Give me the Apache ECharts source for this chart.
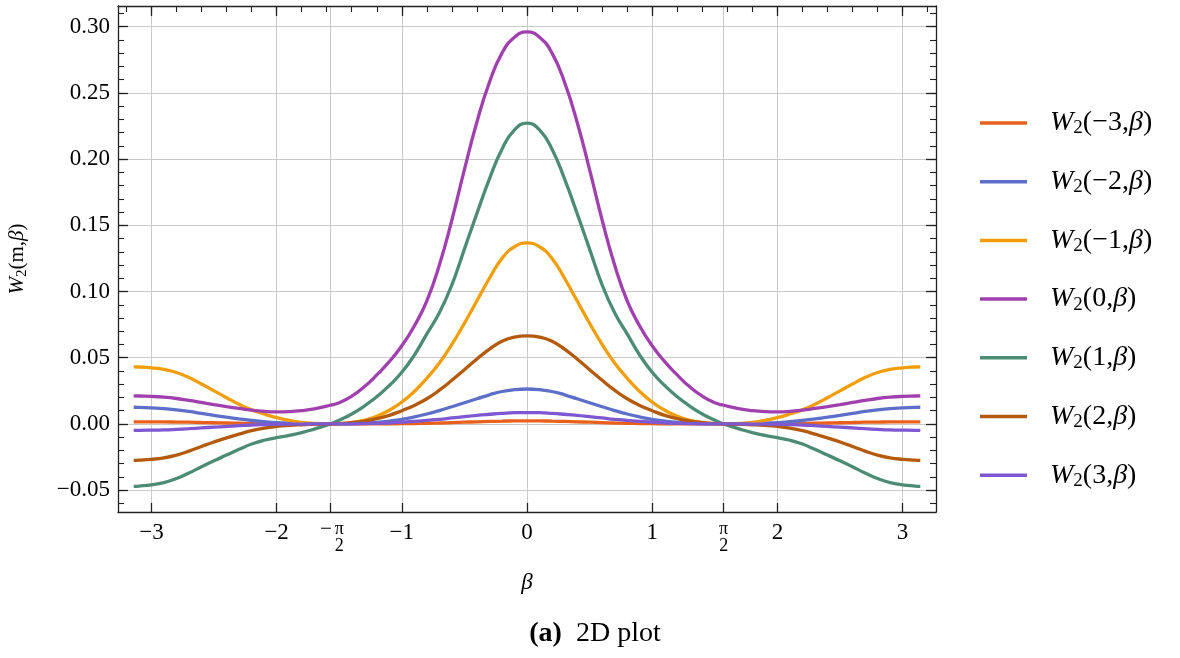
<!DOCTYPE html>
<html>
<head>
<meta charset="utf-8">
<script src="https://cdn.jsdelivr.net/npm/echarts@6/dist/echarts.min.js"></script>
<style>html,body{margin:0;padding:0;background:#fff}#c{width:1180px;height:658px}</style>
</head>
<body>
<div id="c"></div>
<script>
// ---- data ----
var betaValues = [-3.1416,-3.1,-3.0,-2.9,-2.8,-2.7,-2.6,-2.5,-2.4,-2.3,-2.2,-2.1,-2.0,-1.9,-1.8,-1.7,-1.5708,-1.5,-1.4,-1.3,-1.2,-1.1,-1.0,-0.9,-0.8,-0.7,-0.6,-0.5,-0.4,-0.3,-0.2,-0.1,
  0,
  0.1,0.2,0.3,0.4,0.5,0.6,0.7,0.8,0.9,1.0,1.1,1.2,1.3,1.4,1.5,1.5708,1.7,1.8,1.9,2.0,2.1,2.2,2.3,2.4,2.5,2.6,2.7,2.8,2.9,3.0,3.1,3.1416];
var seriesNames = ['W2(-3,β)','W2(-2,β)','W2(-1,β)','W2(0,β)','W2(1,β)','W2(2,β)','W2(3,β)'];
var mLabels = ['−3','−2','−1','0','1','2','3'];

var w_m3 = [0.0015,0.0015,0.0015,0.0015,0.0014,0.0013,0.0011,0.0009,0.0007,0.0005,0.0003,0.0002,0.0001,0,0,0,0,0,0,0,0.0001,0.0001,0.0002,0.0003,0.0005,0.0007,0.0010,0.0013,0.0016,0.0019,0.0021,0.0023,
  0.0023,
  0.0023,0.0021,0.0019,0.0016,0.0013,0.0010,0.0007,0.0005,0.0003,0.0002,0.0001,0.0001,0,0,0,0,0,0,0,0.0001,0.0002,0.0003,0.0005,0.0007,0.0009,0.0011,0.0013,0.0014,0.0015,0.0015,0.0015,0.0015];
var w_m2 = [0.0126,0.0125,0.0121,0.0116,0.0107,0.0095,0.0080,0.0065,0.0051,0.0038,0.0026,0.0017,0.0010,0.0006,0.0003,0.0001,0,0.0000,0.0002,0.0006,0.0012,0.0022,0.0035,0.0053,0.0075,0.0101,0.0130,0.0160,0.0190,0.0220,0.0245,0.0259,
  0.0264,
  0.0259,0.0245,0.0220,0.0190,0.0160,0.0130,0.0101,0.0075,0.0053,0.0035,0.0022,0.0012,0.0006,0.0002,0.0000,0,0.0001,0.0003,0.0006,0.0010,0.0017,0.0026,0.0038,0.0051,0.0065,0.0080,0.0095,0.0107,0.0116,0.0121,0.0125,0.0126];
var w_m1 = [0.0431,0.0430,0.0424,0.0412,0.0388,0.0350,0.0302,0.0250,0.0198,0.0148,0.0106,0.0075,0.0048,0.0027,0.0012,0.0004,0,0.0002,0.0011,0.0028,0.0058,0.0103,0.0165,0.0245,0.0345,0.0460,0.0600,0.0760,0.0930,0.1100,0.1250,0.1338,
  0.1368,
  0.1338,0.1250,0.1100,0.0930,0.0760,0.0600,0.0460,0.0345,0.0245,0.0165,0.0103,0.0058,0.0028,0.0011,0.0002,0,0.0004,0.0012,0.0027,0.0048,0.0075,0.0106,0.0148,0.0198,0.0250,0.0302,0.0350,0.0388,0.0412,0.0424,0.0430,0.0431];
var w_0 = [0.0212,0.0211,0.0208,0.0202,0.0192,0.0178,0.0162,0.0146,0.0131,0.0117,0.0104,0.0095,0.0091,0.0093,0.0100,0.0113,0.0141,0.0160,0.0210,0.0280,0.0370,0.0470,0.0590,0.0740,0.0930,0.1200,0.1540,0.1920,0.2280,0.2580,0.2800,0.2920,
  0.2960,
  0.2920,0.2800,0.2580,0.2280,0.1920,0.1540,0.1200,0.0930,0.0740,0.0590,0.0470,0.0370,0.0280,0.0210,0.0160,0.0141,0.0113,0.0100,0.0093,0.0091,0.0095,0.0104,0.0117,0.0131,0.0146,0.0162,0.0178,0.0192,0.0202,0.0208,0.0211,0.0212];
var w_p1 = [-0.0471,-0.0469,-0.0460,-0.0443,-0.0412,-0.0370,-0.0323,-0.0278,-0.0235,-0.0192,-0.0152,-0.0123,-0.0104,-0.0087,-0.0066,-0.0039,0,0.0028,0.0075,0.0135,0.0205,0.0290,0.0390,0.0520,0.0680,0.0840,0.1050,0.1320,0.1590,0.1850,0.2075,0.2220,
  0.2272,
  0.2220,0.2075,0.1850,0.1590,0.1320,0.1050,0.0840,0.0680,0.0520,0.0390,0.0290,0.0205,0.0135,0.0075,0.0028,0,-0.0039,-0.0066,-0.0087,-0.0104,-0.0123,-0.0152,-0.0192,-0.0235,-0.0278,-0.0323,-0.0370,-0.0412,-0.0443,-0.0460,-0.0469,-0.0471];
var w_p2 = [-0.0275,-0.0273,-0.0267,-0.0256,-0.0235,-0.0205,-0.0170,-0.0136,-0.0105,-0.0077,-0.0051,-0.0032,-0.0019,-0.0011,-0.0006,-0.0002,0,0.0003,0.0010,0.0022,0.0040,0.0065,0.0100,0.0140,0.0190,0.0255,0.0330,0.0410,0.0490,0.0565,0.0625,0.0656,
  0.0665,
  0.0656,0.0625,0.0565,0.0490,0.0410,0.0330,0.0255,0.0190,0.0140,0.0100,0.0065,0.0040,0.0022,0.0010,0.0003,0,-0.0002,-0.0006,-0.0011,-0.0019,-0.0032,-0.0051,-0.0077,-0.0105,-0.0136,-0.0170,-0.0205,-0.0235,-0.0256,-0.0267,-0.0273,-0.0275];
var w_p3 = [-0.0048,-0.0048,-0.0047,-0.0045,-0.0041,-0.0036,-0.0030,-0.0024,-0.0019,-0.0013,-0.0008,-0.0005,-0.0003,-0.0002,-0.0001,0,0,0,0.0001,0.0002,0.0005,0.0008,0.0013,0.0019,0.0027,0.0035,0.0045,0.0055,0.0065,0.0073,0.0080,0.0085,
  0.0086,
  0.0085,0.0080,0.0073,0.0065,0.0055,0.0045,0.0035,0.0027,0.0019,0.0013,0.0008,0.0005,0.0002,0.0001,0,0,0,-0.0001,-0.0002,-0.0003,-0.0005,-0.0008,-0.0013,-0.0019,-0.0024,-0.0030,-0.0036,-0.0041,-0.0045,-0.0047,-0.0048,-0.0048];
var seriesValues = [w_m3, w_m2, w_m1, w_0, w_p1, w_p2, w_p3];
var seriesColors = ['#E8601C','#5D6FC8','#F29E0B','#A040AE','#4C8C74','#B35A0C','#7E58D2'];

var xNumberTicks = [-3,-2,-1,0,1,2,3];
var xNumberLabels = ['−3','−2','−1','0','1','2','3'];
var xPiTicks = [-Math.PI/2, Math.PI/2];
var xMajorTicks = [-3,-2,-Math.PI/2,-1,0,1,Math.PI/2,2,3];
var yMajorTicks = [-0.05,0,0.05,0.10,0.15,0.20,0.25,0.30];
var yTickLabels = ['−0.05','0.00','0.05','0.10','0.15','0.20','0.25','0.30'];

var X_MIN = -3.267, X_MAX = 3.267, Y_MIN = -0.0665, Y_MAX = 0.3156;

// minor tick positions
var xMinorTicks = []; for (var k = -16; k <= 16; k++) xMinorTicks.push(k * 0.2);
var yMinorTicks = []; for (var j = -6; j <= 31; j++) yMinorTicks.push(j * 0.01);

var FONT = 'Liberation Serif';
var AX = '#222';
var TXT = '#000';

function merge(o, extra) { for (var k in extra) o[k] = extra[k]; return o; }
function baseX(extra) {
  return merge({type:'value', min:X_MIN, max:X_MAX, gridIndex:0,
    axisLine:{show:true, onZero:false, lineStyle:{color:AX, width:1.3}},
    axisTick:{show:false}, axisLabel:{show:false}, splitLine:{show:false}, minorTick:{show:false}}, extra);
}
function baseY(extra) {
  return merge({type:'value', min:Y_MIN, max:Y_MAX, gridIndex:0,
    axisLine:{show:true, onZero:false, lineStyle:{color:AX, width:1.3}},
    axisTick:{show:false}, axisLabel:{show:false}, splitLine:{show:false}, minorTick:{show:false}}, extra);
}
var HIDDEN_LINE = {show:false, onZero:false};

var labelFor = {};
xNumberTicks.forEach(function(v,i){ labelFor[v.toFixed(4)] = xNumberLabels[i]; });

var xAxes = [
  baseX({position:'bottom',
    name:'β', nameLocation:'middle', nameGap:59,
    nameTextStyle:{fontFamily:FONT, fontSize:23, fontStyle:'italic', color:TXT},
    axisTick:{show:true, inside:true, length:9, customValues:xMajorTicks, lineStyle:{color:AX, width:1.3}},
    axisLabel:{show:true, customValues:xNumberTicks, margin:9, fontFamily:FONT, fontSize:23, color:TXT,
      formatter:function(v){ var s = labelFor[Number(v).toFixed(4)]; return s === undefined ? '' : s; }},
    splitLine:{show:true, lineStyle:{color:'#c9c9c9', width:1}}
  }),
  baseX({position:'bottom', axisLine:HIDDEN_LINE,
    axisLabel:{show:true, customValues:xPiTicks, margin:9, fontFamily:FONT, color:TXT,
      formatter:function(v){ return v < 0 ? '{m|−}{f|π}\n{p|}{f|2}' : '{f|π}\n{f|2}'; },
      rich:{m:{fontFamily:FONT, fontSize:21, width:18, align:'center', lineHeight:17, color:TXT},
            p:{width:18, lineHeight:17},
            f:{fontFamily:FONT, fontSize:18, lineHeight:17, color:TXT}}}
  }),
  baseX({position:'top',
    axisTick:{show:true, inside:true, length:10, customValues:xNumberTicks, lineStyle:{color:AX, width:1.3}}}),
  baseX({position:'top', axisLine:HIDDEN_LINE,
    axisTick:{show:true, inside:true, length:6, customValues:xMinorTicks, lineStyle:{color:AX, width:1.1}}})
];

var yLabelFor = {};
yMajorTicks.forEach(function(v,i){ yLabelFor[v.toFixed(3)] = yTickLabels[i]; });

var yAxes = [
  baseY({position:'left',
    name:'{i|W}{s|2}(m,{i|β})', nameLocation:'middle', nameGap:88, nameRotate:90,
    nameTextStyle:{fontFamily:FONT, fontSize:21, color:TXT, lineHeight:26,
      rich:{i:{fontFamily:FONT, fontSize:21, fontStyle:'italic', color:TXT, lineHeight:26},
            s:{fontFamily:FONT, fontSize:15, color:TXT, verticalAlign:'bottom'}}},
    axisTick:{show:true, inside:true, length:10, customValues:yMajorTicks, lineStyle:{color:AX, width:1.3}},
    axisLabel:{show:true, customValues:yMajorTicks, margin:8, fontFamily:FONT, fontSize:23, color:TXT,
      formatter:function(v){ var s = yLabelFor[Number(v).toFixed(3)]; return s === undefined ? '' : s; }},
    splitLine:{show:true, lineStyle:{color:'#c9c9c9', width:1}}
  }),
  baseY({position:'left', axisLine:HIDDEN_LINE,
    axisTick:{show:true, inside:true, length:6, customValues:yMinorTicks, lineStyle:{color:AX, width:1.1}}}),
  baseY({position:'right',
    axisTick:{show:true, inside:true, length:10, customValues:yMajorTicks, lineStyle:{color:AX, width:1.3}}}),
  baseY({position:'right', axisLine:HIDDEN_LINE,
    axisTick:{show:true, inside:true, length:6, customValues:yMinorTicks, lineStyle:{color:AX, width:1.1}}})
];

var series = seriesNames.map(function(name, idx){
  return {
    name:name, type:'line', xAxisIndex:0, yAxisIndex:0,
    smooth:true, showSymbol:false, symbol:'none', animation:false, clip:true,
    lineStyle:{color:seriesColors[idx], width:3.3},
    itemStyle:{color:seriesColors[idx]},
    data: betaValues.map(function(b, i){ return [b, seriesValues[idx][i]]; })
  };
});

var legendRich = {
  i:{fontFamily:FONT, fontSize:28, fontStyle:'italic', color:TXT, lineHeight:30},
  r:{fontFamily:FONT, fontSize:28, color:TXT, lineHeight:30},
  s:{fontFamily:FONT, fontSize:19, color:TXT, verticalAlign:'bottom'}
};

var chart = echarts.init(document.getElementById('c'), null, {renderer:'canvas'});
chart.setOption({
  animation:false,
  backgroundColor:'#fff',
  grid:{left:118, right:244, top:6, bottom:146, containLabel:false, outerBoundsMode:'none'},
  xAxis:xAxes,
  yAxis:yAxes,
  legend:{
    orient:'vertical', left:975, top:103, itemWidth:47, itemHeight:3.5, itemGap:28.7, icon:'rect',
    data:seriesNames,
    textStyle:{fontFamily:FONT, fontSize:28, color:TXT, lineHeight:30, padding:[0,0,0,18], rich:legendRich},
    formatter:function(name){
      var i = seriesNames.indexOf(name);
      return '{i|W}{s|2}{r|(' + mLabels[i] + ',}{i|β}{r|)}';
    }
  },
  graphic:[{
    type:'text', x:595, y:634,
    style:{text:'{b|(a)}{n|  2D plot}', align:'center', verticalAlign:'middle',
      rich:{b:{fontFamily:FONT, fontSize:28, fontWeight:'bold', fill:TXT},
            n:{fontFamily:FONT, fontSize:28, fill:TXT}}}
  }],
  series:series
});
</script>
</body>
</html>
